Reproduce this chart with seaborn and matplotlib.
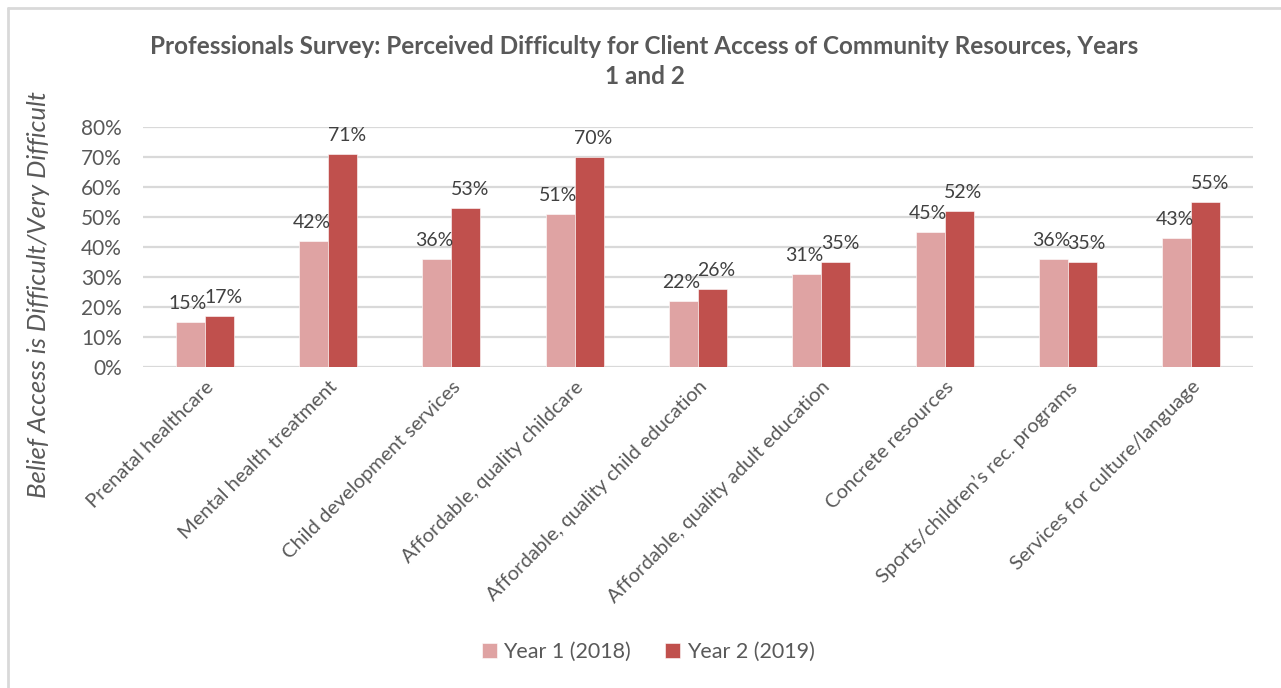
import matplotlib
matplotlib.use("Agg")
import matplotlib.pyplot as plt
from matplotlib.lines import Line2D
from matplotlib.ticker import FuncFormatter
import seaborn as sns
import pandas as pd

categories = [
    "Prenatal healthcare",
    "Mental health treatment",
    "Child development services",
    "Affordable, quality childcare",
    "Affordable, quality child education",
    "Affordable, quality adult education",
    "Concrete resources",
    "Sports/children\u2019s rec. programs",
    "Services for culture/language",
]
year1 = [15, 42, 36, 51, 22, 31, 45, 36, 43]
year2 = [17, 71, 53, 70, 26, 35, 52, 35, 55]
series_names = ["Year 1 (2018)", "Year 2 (2019)"]
colors = ["#DFA3A3", "#C0504D"]

title = ("Professionals Survey: Perceived Difficulty for Client Access of Community Resources, Years\n"
         "1 and 2")
ylabel = "Belief Access is Difficult/Very Difficult"

df = pd.DataFrame({
    "category": categories * 2,
    "series": [series_names[0]] * len(categories) + [series_names[1]] * len(categories),
    "value": [v / 100 for v in year1 + year2],
})

sns.set_theme(style="white")
plt.rcParams["font.family"] = ["Lato", "DejaVu Sans"]
text_color = "#595959"

fig = plt.figure(figsize=(12.81, 6.88), dpi=100)
ax = fig.add_axes([0.1116, 0.4666, 0.8664, 0.3488])

sns.barplot(data=df, x="category", y="value", hue="series", order=categories,
            hue_order=series_names, palette=colors, saturation=1, width=0.47, gap=0,
            edgecolor="white", linewidth=0.4, ax=ax, legend=True)

ax.set_ylim(0, 0.8)
ax.set_yticks([i / 10 for i in range(9)])
ax.yaxis.set_major_formatter(FuncFormatter(lambda v, _: f"{round(v * 100)}%"))
ax.grid(axis="y", color="#D9D9D9", linewidth=1.6)
ax.set_axisbelow(True)
for s in ax.spines.values():
    s.set_visible(False)
ax.tick_params(axis="y", length=0, pad=15, labelsize=15, labelcolor=text_color)
ax.tick_params(axis="x", length=0, pad=8, labelsize=14.5, labelcolor=text_color)
plt.setp(ax.get_xticklabels(), rotation=45, ha="right", rotation_mode="anchor")
ax.set_xlabel("")
ax.set_ylabel(ylabel, fontsize=18.5, style="italic", color=text_color)
ax.yaxis.set_label_coords(-0.0838, 0.3)

# value labels above each bar, nudged apart so neighbours don't collide
vals = [year1, year2]
nudges = [-1.5, 3.0]
for cont, v, dx in zip(ax.containers, vals, nudges):
    for bar, x in zip(cont.patches, v):
        ax.annotate(f"{x}%", xy=(bar.get_x() + bar.get_width() / 2, bar.get_height()),
                    xytext=(dx, 7), textcoords="offset points", ha="center",
                    va="bottom", fontsize=14, color="#404040")

ax.set_title(title, fontsize=17.5, fontweight="bold", color=text_color, pad=31,
             x=0.452, linespacing=1.35)

ax.get_legend().remove()
handles, labels = ax.get_legend_handles_labels()
leg = fig.legend(handles[:2], labels[:2], loc="center", bbox_to_anchor=(0.506, 0.052),
                 ncol=2, frameon=False, fontsize=15.5, handlelength=0.7,
                 handleheight=0.7, handletextpad=0.3, columnspacing=1.6)
for t in leg.get_texts():
    t.set_color(text_color)

# chart frame edges
fig.add_artist(Line2D([8 / 1281, 8 / 1281], [0, 1 - 8 / 688], color="#D9D9D9",
                      linewidth=2, transform=fig.transFigure))
fig.add_artist(Line2D([8 / 1281, 1], [1 - 8 / 688, 1 - 8 / 688], color="#D9D9D9",
                      linewidth=2, transform=fig.transFigure))

fig.savefig("out.png", dpi=100, facecolor="white")
